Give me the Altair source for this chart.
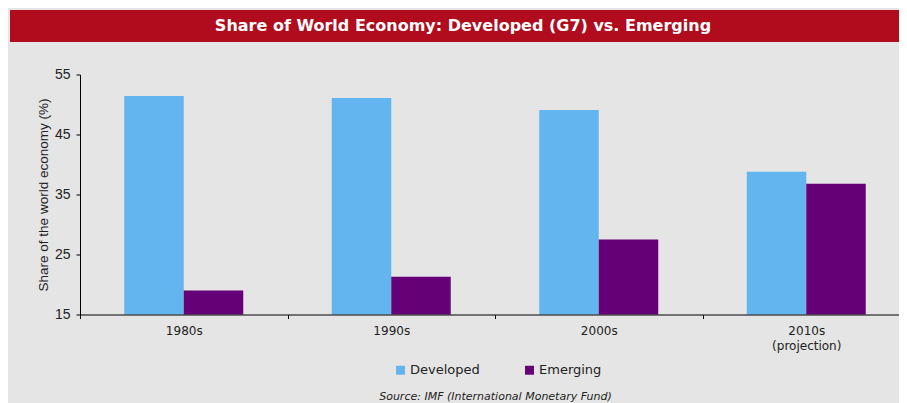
import altair as alt
import pandas as pd

# ---- data ----
decades = ["1980s", "1990s", "2000s", "2010s (projection)"]
developed = [51.4, 51.1, 49.1, 38.8]
emerging = [19.0, 21.3, 27.5, 36.8]
series = ["Developed", "Emerging"]
colors = ["#62b5ef", "#660077"]
y_ticks = [15, 25, 35, 45, 55]
y_floor = 15

rows = []
for d, a, b in zip(decades, developed, emerging):
    rows.append({"decade": d, "series": series[0], "share": a})
    rows.append({"decade": d, "series": series[1], "share": b})
df = pd.DataFrame(rows)

W = 819
H = 240

bars = alt.Chart(df).mark_bar().encode(
    x=alt.X(
        "decade:N",
        sort=decades,
        scale=alt.Scale(range=[0, 830], paddingInner=0, paddingOuter=0),
        axis=alt.Axis(
            title="Source: IMF (International Monetary Fund)",
            titleFont="DejaVu Sans",
            titleFontSize=11,
            titleFontStyle="italic",
            titleFontWeight="normal",
            titleColor="#222222",
            titleY=81.5,
            titleBaseline="middle",
            labelExpr="split(datum.label, ' ')",
            labelAngle=0,
            labelFont="DejaVu Sans",
            labelFontSize=12,
            labelColor="#222222",
            labelLineHeight=15,
            labelPadding=7,
            tickBand="extent",
            tickSize=4,
            tickColor="black",
            domainColor="black",
            zindex=1,
        ),
    ),
    xOffset=alt.XOffset(
        "series:N", sort=series,
        scale=alt.Scale(paddingInner=0, paddingOuter=0.744),
    ),
    y=alt.Y(
        "share:Q",
        scale=alt.Scale(domain=[15, 55], nice=False, zero=False),
        axis=alt.Axis(
            values=y_ticks,
            title="Share of the world economy (%)",
            titleFont="Liberation Sans",
            titleFontSize=13.5,
            titleFontWeight="normal",
            titleColor="#222222",
            titlePadding=4,
            labelFont="Liberation Sans",
            labelFontSize=14,
            labelColor="#222222",
            labelPadding=6,
            tickSize=4,
            tickColor="black",
            domainColor="black",
            grid=False,
            zindex=1,
        ),
    ),
    y2=alt.datum(y_floor),
    color=alt.Color(
        "series:N",
        sort=series,
        scale=alt.Scale(domain=series, range=colors),
        legend=alt.Legend(
            title=None,
            orient="none",
            direction="horizontal",
            legendX=314,
            legendY=289,
            padding=0,
            symbolType="square",
            symbolSize=80,
            symbolStrokeWidth=0,
            labelFont="DejaVu Sans",
            labelFontSize=13,
            labelColor="#222222",
            labelOffset=3,
            columnPadding=43,
        ),
    ),
)

banner = alt.Chart(alt.Data(values=[{"k": 0}])).mark_rect(color="#b00c1e").encode(
    x=alt.value(-70), x2=alt.value(830), y=alt.value(-64.5), y2=alt.value(-32.5)
)

chart = alt.layer(banner, bars).properties(
    width=W,
    height=H,
    title=alt.TitleParams(
        text="Share of World Economy: Developed (G7) vs. Emerging",
        color="white",
        font="DejaVu Sans",
        fontSize=16,
        fontWeight="bold",
        anchor="middle",
        frame="group",
        baseline="middle",
        offset=0,
        dy=32,
        dx=-26.5,
    ),
    autosize=alt.AutoSizeParams(type="none"),
    padding={"left": 72, "top": 66.5, "right": 0, "bottom": 88.5},
).configure(
    background="#e5e5e5"
).configure_view(
    stroke=None
)

chart.save("out.html", embed_options={"renderer": "svg", "actions": False})
